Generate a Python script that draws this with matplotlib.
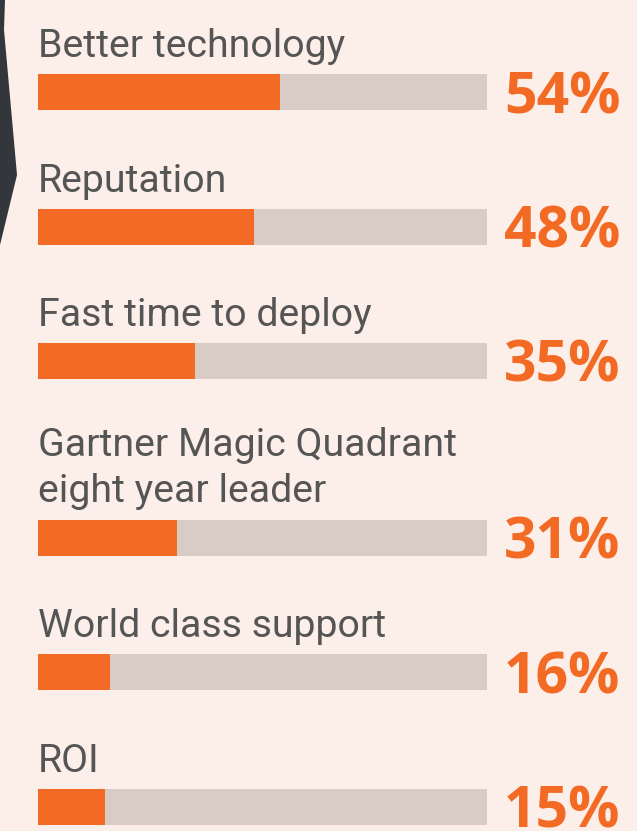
import matplotlib.pyplot as plt
from matplotlib.patches import Polygon

categories = ["Better technology", "Reputation", "Fast time to deploy",
              "Gartner Magic Quadrant\neight year leader",
              "World class support", "ROI"]
values = [54, 48, 35, 31, 16, 15]

orange = "#F36A24"
track = "#D9CCC7"
bg = "#FCEEE8"
grey = "#555555"

W, H = 637, 831
fig = plt.figure(figsize=(W / 100, H / 100), dpi=100)
fig.patch.set_facecolor(bg)

# background axes in pixel coords for the dark shape on the left
bgax = fig.add_axes([0, 0, 1, 1])
bgax.set_xlim(0, W)
bgax.set_ylim(H, 0)
bgax.axis("off")
bgax.add_patch(Polygon([(0, 0), (5, 0), (4, 30), (17, 175), (0, 245)],
                       closed=True, color="#33363B", lw=0))

# bar axes: x in percent, y in pixels
x0, x1 = 38, 487
ax = fig.add_axes([x0 / W, 0, (x1 - x0) / W, 1])
ax.set_xlim(0, 100)
ax.set_ylim(H, 0)
ax.axis("off")

# row layout: two-line labels push their bar further down
bar_h = 36
tops = []
y = 74 - 134.5
for c in categories:
    y += 134.5 + (42 if "\n" in c else 0)
    tops.append(y)

centers = [t + bar_h / 2 for t in tops]
ax.barh(centers, [100] * len(values), height=bar_h, color=track)
ax.barh(centers, values, height=bar_h, color=orange)

for c, v, t in zip(categories, values, tops):
    ax.text(0, t - 17, c, fontsize=28.3, color=grey, family="Roboto",
            va="baseline", ha="left", linespacing=1.33)
    ax.text(103.8, t + bar_h + 3, f"{v}%", fontsize=41, color=orange,
            family="Open Sans", fontweight="bold", va="baseline", ha="left",
            clip_on=False)

fig.savefig("out.png", dpi=100, facecolor=bg)
